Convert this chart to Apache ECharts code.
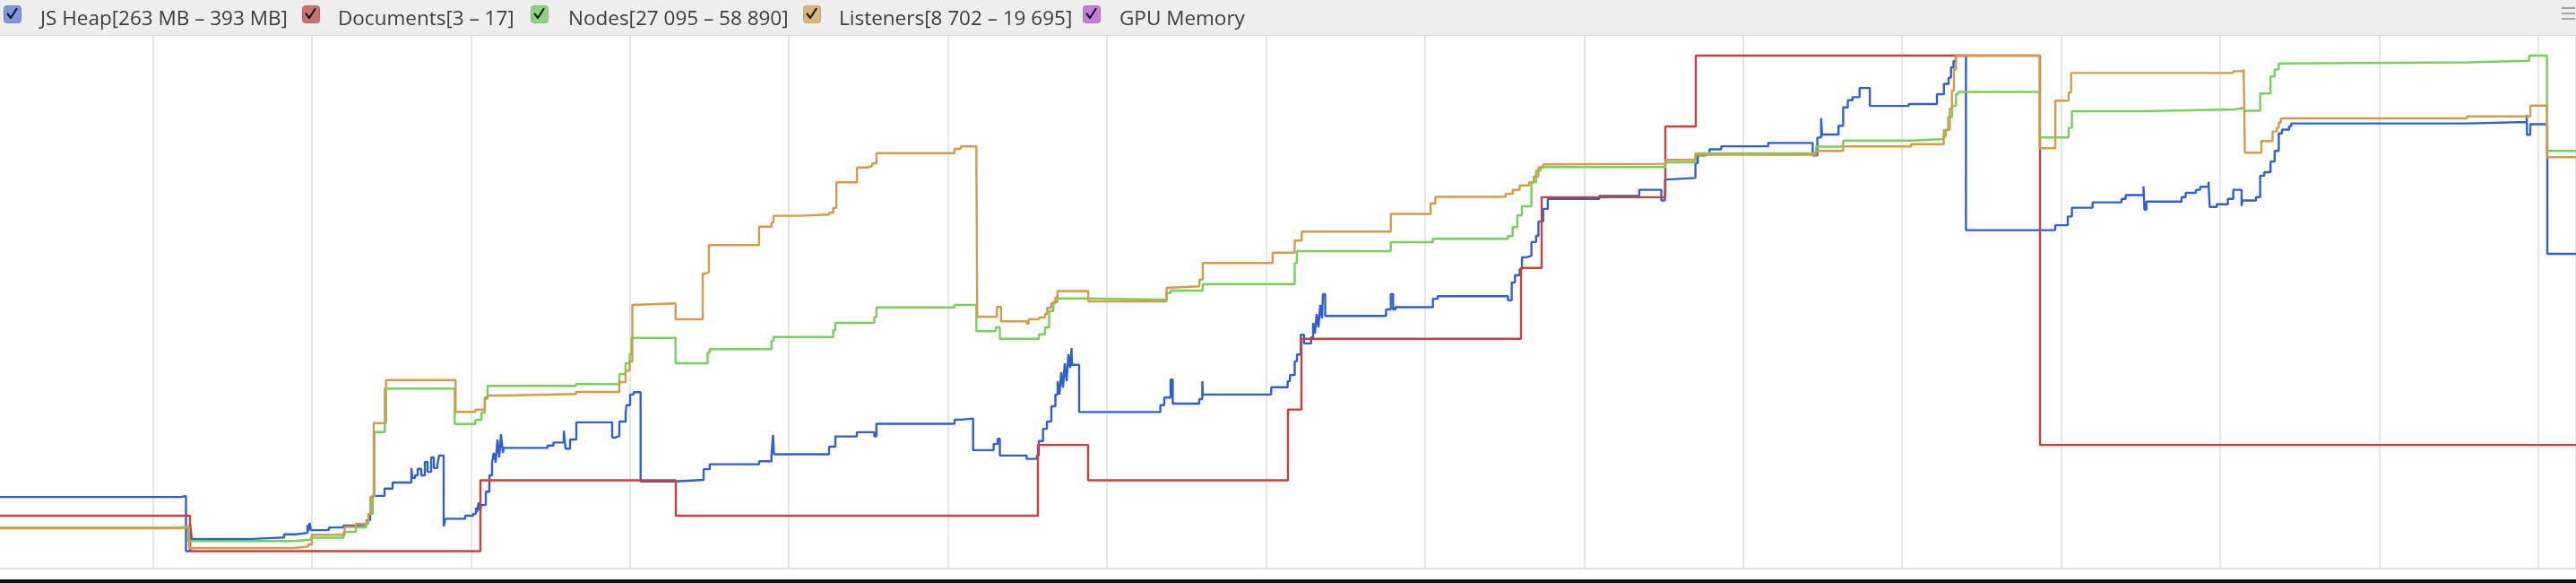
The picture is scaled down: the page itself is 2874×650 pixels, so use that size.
<!DOCTYPE html>
<html>
<head>
<meta charset="utf-8">
<script src="https://cdn.jsdelivr.net/npm/echarts@6/dist/echarts.min.js"></script>
<style>
html,body{margin:0;padding:0;background:#ffffff;overflow:hidden}
#chart{width:2874px;height:650px}
</style>
</head>
<body>
<div id="chart"></div>
<script>
// ---- legend labels ----
const seriesNames = [
  'JS Heap[263 MB \u2013 393 MB]',
  'Documents[3 \u2013 17]',
  'Nodes[27 095 \u2013 58 890]',
  'Listeners[8 702 \u2013 19 695]',
  'GPU Memory'
];
// ranges shown in the legend (each counter has its own scale)
const heapRange = [263, 393];
const docRange = [3, 17];
const nodeRange = [27095, 58890];
const lisRange = [8702, 19695];

// ---- time stamps (recording time units) and counter values ----
const heapT = [0,210,215.5,220,222,289,325,338,351,352,353.5,355,371,375,391,404,417,421,423.5,437,446,467,468,471,474,478,482,485,489,492,496,498,503,505,527,536,539,540,542,543.5,545,550,554,557,559,561,563,565,567,569,570,619,625.5,637,639,644,651,691,694,699,706,707,711,715,722.7,762,793,799.8,855,868.7,870.5,871.5,933,940,964,983.5,985.8,1073,1080,1093.7,1116.6,1121,1123.5,1153.4,1164.8,1167,1171.7,1176,1181,1185.5,1188,1190,1192,1194,1196,1198,1200,1202,1203.5,1204,1212,1302.6,1307,1314,1316.4,1346,1349.4,1350,1426.3,1444.6,1447.2,1452.5,1455,1459.3,1462.9,1470.8,1473,1475,1477,1479,1481,1483,1484,1486.5,1554.4,1559.7,1562.3,1564.9,1606.7,1612,1690.4,1694.6,1698.3,1703.5,1706.1,1711.3,1716.6,1721.8,1724.4,1729.7,1734.9,1792.4,1836.9,1861.5,1865.6,1868.3,1899.6,1902.2,1910,1915.3,1928.4,1980.7,2030.4,2035.6,2039.8,2040.8,2059.2,2064.4,2069.6,2074.8,2082.7,2094.2,2137.6,2169,2176.8,2182,2184.7,2187.5,2190,2201.4,2301,2315,2319.6,2342.7,2375,2379.6,2399.5,2400.5,2402.7,2442,2446.5,2458,2462.7,2472,2473.3,2481.2,2493.6,2499.6,2508.9,2509.8,2525,2529.6,2534.3,2541.2,2545.8,2550.4,2554,2562,2564.3,2760.5,2827,2827.4,2831,2850,2882];
const heapMB = [277.2,277.5,263,270.4,266.2,266.6,267.4,267.8,269.9,268.3,270.4,268.5,268.6,269.2,269.7,269.9,271.1,272.8,277.5,279.4,281.0,284.8,282.2,282.9,284.6,282.9,286.4,283.8,287.6,284.8,285.7,288.1,269.5,271.5,272.3,272.8,274.4,273.2,275.8,273.5,275.1,278.6,282.9,286.4,288.8,286.2,292.3,287.6,293.7,288.8,290.1,290.7,291.5,294.6,289.9,292.3,296.8,292.8,293.2,297.0,299.0,301.3,304.1,304.7,281.3,281.7,284.5,285.8,286.6,288.1,293.5,288.4,290.4,293.1,294.2,293.1,296.4,297.5,297.8,289.5,291.1,292.5,288.1,287.2,288.1,291.9,295.1,297.0,301.0,304.1,307.6,304.1,309.9,305.9,312.3,307.6,314.6,311.1,316.3,311.9,299.5,301.3,303.3,308.0,301.7,302.9,307.6,304.1,306.0,307.6,309.2,312.8,314.6,319.8,317.5,319.1,322.9,320.1,325.2,321.7,327.6,324.1,330.4,324.7,326.4,330.4,326.4,327.0,329.2,329.9,328.8,333.5,335.4,337.0,340.1,340.5,344.1,345.7,349.5,352.8,355.4,356.2,357.8,355.0,360.5,360.9,364.8,366.8,367.2,368.4,369.2,370.1,366.8,371.5,376.6,372.3,374.6,379.4,381.3,382.1,384.5,379.8,380.3,382.9,385.6,387.2,389.9,391.6,393,347.2,348.5,350.8,353.1,354.5,355.4,356.4,358.7,352.6,354.7,355.9,357.0,357.8,358.6,359.9,353.3,354.0,355.4,357.8,353.6,355.0,355.9,361.5,362.4,365.2,368.0,372.6,373.6,374.5,375.2,375.6,377.5,372.2,375.0,341.0,341.0];

const docT = [0,220,544,762,1166,1222,1445,1460,1705,1728,1866,1900,2284,2882];
const docCount = [4,3,5,4,6,5,7,9,11,13,15,17,6,6];

const nodeT = [0,210,218,336,354.6,391.4,405,416.6,419,423.5,425.8,437.3,515.3,538.3,545.2,548.9,552,650.8,699,705.9,710.5,712.6,761.7,797.5,799.8,868.7,871,937.6,939.9,983.5,985.8,1073,1097.3,1119,1123.5,1167.1,1174,1178.6,1183.2,1187.8,1222.2,1309.5,1314,1349.9,1452.5,1455,1559.7,1606.7,1690.4,1695.6,1700.9,1706,1716.6,1721.8,1727,1866,1899.6,2034,2064.4,2140,2176.6,2181.5,2186,2190.3,2192.6,2283.6,2315.9,2319.6,2398,2502,2512,2529.6,2541.2,2545.8,2550.4,2552.7,2760.5,2829.7,2849.6,2882];
const nodeCount = [28603,28695,27740,27832,27958,28332,28620,28850,29483,30634,34737,37523,35255,35509,35986,36964,37695,37811,38461,39151,39727,40780,39151,39825,40055,40590,40837,41263,41741,42127,42737,42892,41206,41453,40722,41010,41453,42506,43082,43312,43220,43657,43813,44233,45580,46345,46920,47133,47306,47881,48647,49222,50759,51524,51737,52042,52618,53049,53441,53538,54114,54948,55668,56416,56560,53636,54252,55322,55437,55552,55351,56456,57550,58004,58390,58459,58557,58890,52773,52773];

const lisT = [0,208,219,336,352,356,392.5,405,416.6,419,421.2,424.9,438.7,516.3,538.3,548.9,552,572.7,650.8,699,706,710.5,713.5,714.9,761.7,792,795.2,798.9,854.9,868.7,871,900.8,933,937.6,941.2,964.2,976.6,981.2,985.8,1073,1079.9,1097.3,1098.3,1120.3,1124.9,1153.4,1155.7,1167.1,1174,1176.3,1181,1185.5,1187.8,1222.2,1309.5,1314,1346.2,1349.9,1427.9,1452.5,1460.3,1559.7,1604.1,1609.4,1687.8,1695.7,1703.5,1714,1719.2,1724.4,1729.7,1734.9,1866.7,1899.6,2034,2064.4,2140.2,2176.6,2178.8,2183.4,2185.7,2188,2190.3,2283.6,2301.1,2315.9,2318.7,2499.6,2511.2,2512.6,2531,2543.5,2548.1,2550.4,2552.7,2760.5,2831.1,2849.6,2882];
const lisCount = [9209,9235,8772,8805,8857,9064,9239,9309,9355,9522,9906,11543,12498,11792,11842,12084,12154,12188,12234,12453,12705,12904,14164,14198,13845,14860,14894,15491,15901,15988,16140,16167,16207,16319,16884,17214,17248,17302,17532,17626,17680,17546,13899,14118,13800,13752,13845,13885,13965,14098,14198,14329,14472,14243,14548,14576,14727,15093,15324,15590,15789,16183,16418,16561,16631,16716,16816,16884,17015,17214,17282,17294,17381,17493,17580,17680,17731,17904,18052,18521,18919,19389,19695,17642,18696,18877,19309,19349,19389,17540,17799,18012,18091,18209,18302,18346,18587,17443,17443];

const gpuT = [];
const gpuMB = [];

// time window shown and time-grid spacing
const T_START = 8;
const T_END = 2882;
const GRID_STEP = 178.5;
const GRID_FIRST = 178.5; // first time-grid line (time units)

// ---- styles ----
const lineColors = ['#3060d0', '#cc3f3a', '#78d05c', '#d49b4c', '#b950c9'];
const boxColors  = ['#7c97dc', '#c97471', '#8ad57c', '#d8b57a', '#c37fd7'];
const boxEdges   = ['#6a86cf', '#b96461', '#77c56a', '#c9a468', '#b26ec7'];
const boxLefts   = [4, 337, 592, 896, 1208];
const textLefts  = [40, 372, 629, 931, 1244];

function zip(t, v) { return t.map((x, i) => [x, v[i]]); }

const chart = echarts.init(document.getElementById('chart'), null, {renderer: 'canvas'});

const legends = seriesNames.map((name, i) => ({
  data: [name],
  left: textLefts[i] - 5,
  top: 1,
  itemWidth: 0,
  itemHeight: 0,
  icon: 'rect',
  selectedMode: false,
  textStyle: { fontFamily: 'Open Sans', fontSize: 22.5, color: '#3c3c3c', lineHeight: 32 }
}));

// checkbox decorations drawn beside each legend label
const checkboxes = [];
boxLefts.forEach((l, i) => {
  checkboxes.push({
    type: 'rect', left: l, top: 6, z: 5,
    shape: { width: 19, height: 19, r: 3 },
    style: { fill: boxColors[i], stroke: boxEdges[i], lineWidth: 1 }
  });
  checkboxes.push({
    type: 'polyline', z: 6,
    shape: { points: [[l + 4.5, 15.5], [l + 8, 20], [l + 14.5, 10]] },
    style: { fill: null, stroke: '#1c1c1c', lineWidth: 2.2, lineJoin: 'round', lineCap: 'round' }
  });
});

const option = {
  backgroundColor: '#ffffff',
  animation: false,
  legend: legends,
  graphic: [
    { type: 'rect', left: 0, top: 0, z: 0, shape: { width: 2874, height: 39 }, style: { fill: '#eeeeee' } },
    { type: 'rect', left: 0, top: 39, z: 0, shape: { width: 2874, height: 1 }, style: { fill: '#dadada' } },
    { type: 'rect', left: 2858, top: 8, z: 1, shape: { width: 15, height: 2 }, style: { fill: '#a3a3a3' } },
    { type: 'rect', left: 2858, top: 14, z: 1, shape: { width: 15, height: 2 }, style: { fill: '#a3a3a3' } },
    { type: 'rect', left: 2858, top: 20, z: 1, shape: { width: 15, height: 2 }, style: { fill: '#a3a3a3' } },
    { type: 'rect', left: 0, top: 633, z: 1, shape: { width: 2874, height: 2 }, style: { fill: '#e0e0e0' } },
    { type: 'rect', left: 0, top: 646, z: 1, shape: { width: 2874, height: 4 }, style: { fill: '#111111' } }
  ].concat(checkboxes),
  grid: [
    // time-grid background: starts at the first grid line
    { left: GRID_FIRST - T_START, width: 2720, top: 40, height: 593, containLabel: false },
    // counters
    { left: 0, width: 2874, top: 62, height: 552.5, containLabel: false }
  ],
  xAxis: [
    {
      type: 'value', gridIndex: 0, min: 0, max: 2720, interval: GRID_STEP,
      axisLine: { show: false }, axisTick: { show: false }, axisLabel: { show: false },
      splitLine: { show: true, lineStyle: { color: '#e6e6e6', width: 2 } }
    },
    {
      type: 'value', gridIndex: 1, min: T_START, max: T_END, show: false,
      splitLine: { show: false }
    }
  ],
  yAxis: [
    { type: 'value', gridIndex: 0, min: 0, max: 1, show: false, splitLine: { show: false } },
    { type: 'value', gridIndex: 1, min: heapRange[0], max: heapRange[1], show: false, splitLine: { show: false } },
    { type: 'value', gridIndex: 1, min: docRange[0], max: docRange[1], show: false, splitLine: { show: false } },
    { type: 'value', gridIndex: 1, min: nodeRange[0], max: nodeRange[1], show: false, splitLine: { show: false } },
    { type: 'value', gridIndex: 1, min: lisRange[0], max: lisRange[1], show: false, splitLine: { show: false } }
  ],
  series: [
    { name: seriesNames[0], data: zip(heapT, heapMB), yAxisIndex: 1, color: lineColors[0] },
    { name: seriesNames[1], data: zip(docT, docCount), yAxisIndex: 2, color: lineColors[1] },
    { name: seriesNames[2], data: zip(nodeT, nodeCount), yAxisIndex: 3, color: lineColors[2] },
    { name: seriesNames[3], data: zip(lisT, lisCount), yAxisIndex: 4, color: lineColors[3] },
    { name: seriesNames[4], data: zip(gpuT, gpuMB), yAxisIndex: 1, color: lineColors[4] }
  ].map(s => Object.assign({
    type: 'line', xAxisIndex: 1, step: 'end', showSymbol: false, symbol: 'none',
    clip: false, lineStyle: { width: 2.4 }, emphasis: { disabled: true }
  }, s))
};

chart.setOption(option);
</script>
</body>
</html>
